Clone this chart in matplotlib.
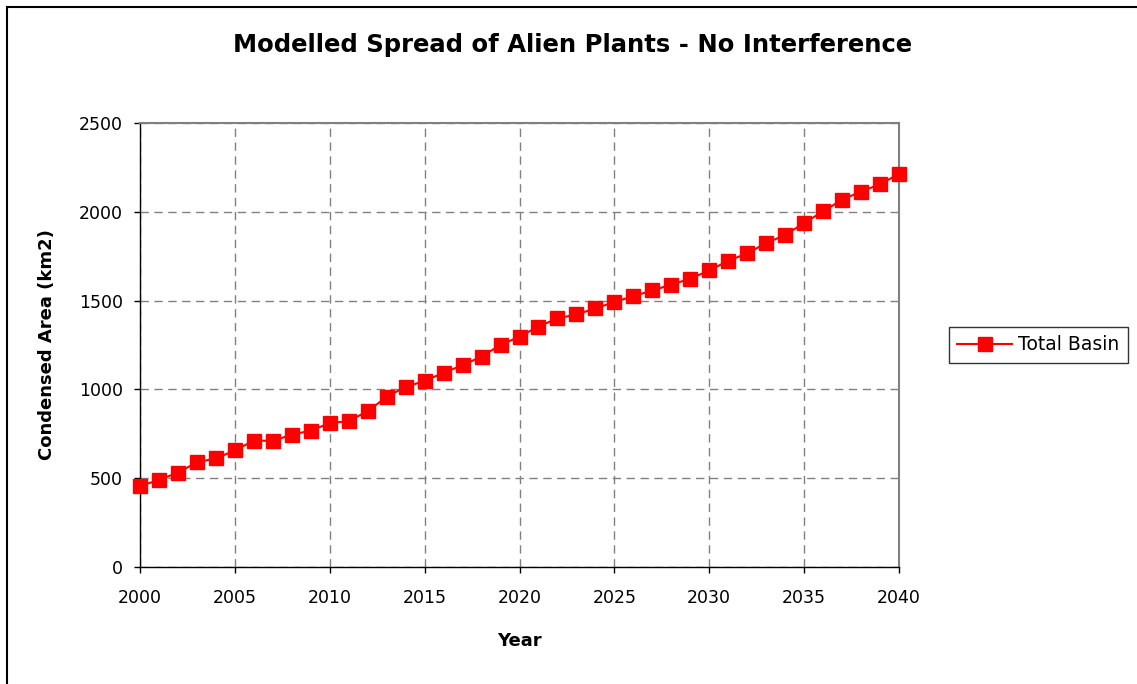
import matplotlib.pyplot as plt
from matplotlib.patches import Rectangle

plt.rcParams['font.family'] = ['DejaVu Sans']

# ---- data ----
years = list(range(2000, 2041))
total_basin = [457, 489, 532, 589, 612, 656, 712, 710, 745, 768,
               810, 822, 877, 958, 1015, 1047, 1094, 1136, 1185, 1250,
               1297, 1354, 1400, 1422, 1456, 1492, 1525, 1557, 1590, 1623,
               1670, 1724, 1766, 1824, 1869, 1937, 2002, 2068, 2114, 2155,
               2214]
x_ticks = [2000, 2005, 2010, 2015, 2020, 2025, 2030, 2035, 2040]
y_ticks = [0, 500, 1000, 1500, 2000, 2500]

W, H = 1137, 684
fig = plt.figure(figsize=(W / 100, H / 100), dpi=100)
ax = fig.add_axes([140 / W, 1 - 567 / H, (899 - 140) / W, (567 - 123) / H])

# outer chart border (right/bottom edges fall outside the image)
fig.patches.append(Rectangle((6.5 / W, -0.05), 1.1, 1.05 - 6.5 / H,
                             transform=fig.transFigure, fill=False,
                             edgecolor='black', linewidth=1.5))

ax.plot(years, total_basin, color='#ff0000', linewidth=1.5, marker='s',
        markersize=9.5, markerfacecolor='#ff0000', markeredgecolor='#ff0000',
        label='Total Basin', clip_on=False, zorder=3)

ax.set_xlim(2000, 2040)
ax.set_ylim(0, 2500)
ax.set_xticks(x_ticks)
ax.set_yticks(y_ticks)
ax.tick_params(axis='both', labelsize=12.5, direction='out', length=4.5, width=1)
ax.tick_params(axis='x', pad=11)
ax.tick_params(axis='y', pad=8)
ax.grid(True, color='#808080', linestyle=(0, (6, 4)), linewidth=1)

for side in ['top', 'right']:
    ax.spines[side].set_color('#808080')
    ax.spines[side].set_linewidth(1.5)
for side in ['left', 'bottom']:
    ax.spines[side].set_color('black')
    ax.spines[side].set_linewidth(1)

ax.set_xlabel('Year', fontsize=13, fontweight='bold')
ax.set_ylabel('Condensed Area (km2)', fontsize=13, fontweight='bold')
ax.xaxis.set_label_coords((519 - 140) / 759, -(632 - 567) / 444)
ax.yaxis.set_label_coords(-(140 - 56) / 759, (567 - 345) / 444)
fig.suptitle('Modelled Spread of Alien Plants - No Interference',
             fontsize=17.5, fontweight='bold', x=573 / W, y=1 - 45 / H, va='center')

leg = fig.legend(loc='center left', bbox_to_anchor=(949 / W, 1 - 345 / H),
                 fontsize=13.5, frameon=True, fancybox=False, edgecolor='black',
                 handlelength=2.9, borderpad=0.45, handletextpad=0.35,
                 borderaxespad=0)
leg.get_frame().set_linewidth(1)

fig.savefig('out.png', dpi=100)
